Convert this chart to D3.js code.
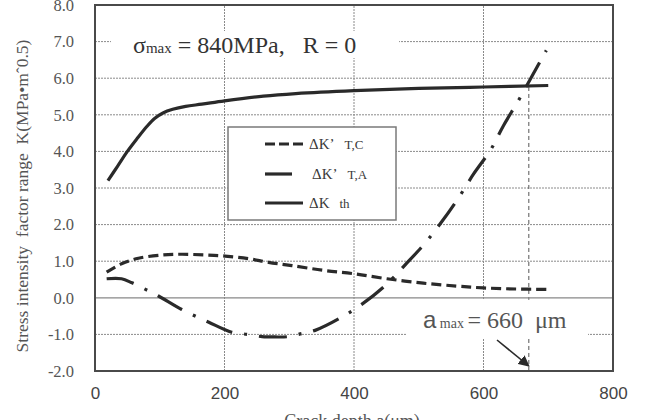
<!DOCTYPE html>
<html>
<head>
<meta charset="utf-8">
<script src="https://cdn.jsdelivr.net/npm/d3@7"></script>
<style>
  body { margin: 0; background: #fff; }
  svg { display: block; }
</style>
</head>
<body>
<div id="vis"></div>
<script>
// data
const X_TICKS = [0, 200, 400, 600, 800];
const Y_TICKS = [-2, -1, 0, 1, 2, 3, 4, 5, 6, 7, 8];

const TH_X = [20, 35, 50, 65, 80, 92, 105, 120, 140, 165, 200, 260, 310, 400, 500, 600, 700];
const TH_K = [3.2, 3.6, 4.0, 4.35, 4.68, 4.9, 5.05, 5.15, 5.23, 5.29, 5.38, 5.51, 5.58, 5.66, 5.72, 5.76, 5.8];

const TC_X = [18, 41, 67, 103, 134, 170, 201, 237, 268, 304, 353, 399, 451, 507, 559, 600, 650, 700];
const TC_K = [0.70, 0.93, 1.08, 1.17, 1.19, 1.17, 1.14, 1.07, 0.97, 0.88, 0.75, 0.66, 0.52, 0.40, 0.32, 0.27, 0.24, 0.23];

const TA_X = [18, 41, 57, 78, 98, 134, 175, 211, 236, 258, 278, 299, 319, 340, 379, 415, 451, 479, 510, 536, 561, 585, 611, 631, 654, 675, 697];
const TA_K = [0.52, 0.52, 0.41, 0.23, 0.05, -0.32, -0.66, -0.94, -1.0, -1.06, -1.07, -1.06, -0.98, -0.89, -0.55, -0.14, 0.38, 0.90, 1.50, 2.09, 2.72, 3.39, 4.04, 4.71, 5.39, 6.06, 6.76];

const A_MAX_LINE = 670;   // where the dashed marker sits on the picture

// frame
const FRAME_WIDTH = 667;
const FRAME_HEIGHT = 420;
const MARGINS = {left: 95, right: 54, top: 5, bottom: 49};
const VIS_WIDTH = FRAME_WIDTH - MARGINS.left - MARGINS.right;
const VIS_HEIGHT = FRAME_HEIGHT - MARGINS.top - MARGINS.bottom;

const svg = d3.select("#vis")
  .append("svg")
  .attr("width", FRAME_WIDTH)
  .attr("height", FRAME_HEIGHT);

const X = d3.scaleLinear().domain([0, 800]).range([MARGINS.left, MARGINS.left + VIS_WIDTH]);
const Y = d3.scaleLinear().domain([-2, 8]).range([MARGINS.top + VIS_HEIGHT, MARGINS.top]);

const INK = "#2a2a2a";
const SERIF = "'Liberation Serif', 'Times New Roman', serif";
const SANS = "'Liberation Sans', Arial, sans-serif";

// grid
const grid = svg.append("g").attr("stroke", "#8a8a8a").attr("stroke-width", 1).attr("stroke-dasharray", "2,1");
grid.selectAll(".hg")
  .data(Y_TICKS.filter(d => d !== 0 && d !== -2 && d !== 8))
  .join("line")
  .attr("x1", X(0)).attr("x2", X(800))
  .attr("y1", d => Y(d)).attr("y2", d => Y(d));
grid.selectAll(".vg")
  .data(X_TICKS.slice(1, -1))
  .join("line")
  .attr("x1", d => X(d)).attr("x2", d => X(d))
  .attr("y1", Y(-2)).attr("y2", Y(8));

// a_max marker
svg.append("line")
  .attr("x1", X(A_MAX_LINE)).attr("x2", X(A_MAX_LINE))
  .attr("y1", Y(5.76)).attr("y2", Y(-2))
  .attr("stroke", "#555").attr("stroke-width", 1).attr("stroke-dasharray", "4,3");

// white boxes behind the labels
svg.append("rect").attr("x", 111).attr("y", 31).attr("width", 288).attr("height", 27).attr("fill", "#fff");
svg.append("rect").attr("x", 407).attr("y", Y(0) + 2).attr("width", 181).attr("height", 39).attr("fill", "#fff");

// zero line
svg.append("line")
  .attr("x1", X(0)).attr("x2", X(800))
  .attr("y1", Y(0)).attr("y2", Y(0))
  .attr("stroke", "#888").attr("stroke-width", 1.3);

// curves
const line = d3.line().x(d => X(d[0])).y(d => Y(d[1])).curve(d3.curveCatmullRom.alpha(0.5));

svg.append("path")
  .datum(d3.zip(TC_X, TC_K))
  .attr("d", line)
  .attr("fill", "none").attr("stroke", INK).attr("stroke-width", 3.2)
  .attr("stroke-dasharray", "10,5");

svg.append("path")
  .datum(d3.zip(TA_X, TA_K))
  .attr("d", line)
  .attr("fill", "none").attr("stroke", INK).attr("stroke-width", 3.2)
  .attr("stroke-dasharray", "28,12,3,12");

svg.append("path")
  .datum(d3.zip(TH_X, TH_K))
  .attr("d", line)
  .attr("fill", "none").attr("stroke", INK).attr("stroke-width", 3.2);

// legend
const legend = svg.append("g");
legend.append("rect")
  .attr("x", 228).attr("y", 127).attr("width", 168).attr("height", 93)
  .attr("fill", "#fff").attr("stroke", "#7a7a7a").attr("stroke-width", 1.5);

const legendRows = [
  {y: 144, x2: 303, dash: "10,4", name: "ΔK’", sub: "T,C", tx: 309},
  {y: 174, x2: 292, dash: null, name: "ΔK’", sub: "T,A", tx: 312},
  {y: 203, x2: 303, dash: null, name: "ΔK", sub: "th", tx: 309}
];
legendRows.forEach(r => {
  legend.append("line")
    .attr("x1", 265).attr("x2", r.x2).attr("y1", r.y).attr("y2", r.y)
    .attr("stroke", INK).attr("stroke-width", 3.2)
    .attr("stroke-dasharray", r.dash);
  const t = legend.append("text")
    .attr("x", r.tx).attr("y", r.y + 5)
    .attr("font-family", SERIF).attr("font-size", 15).attr("fill", "#3a3a3a");
  t.append("tspan").text(r.name);
  t.append("tspan").attr("dx", 10).attr("font-size", 13).text(r.sub);
});

// axes
const yAxis = svg.append("g")
  .attr("transform", "translate(" + MARGINS.left + ",0)")
  .call(d3.axisLeft(Y).tickValues(Y_TICKS).tickSize(0).tickPadding(21).tickFormat(d => d.toFixed(1)));
yAxis.select(".domain").remove();
yAxis.selectAll("text").attr("font-family", SERIF).attr("font-size", 16.5).attr("fill", "#555");

const xAxis = svg.append("g")
  .attr("transform", "translate(0," + (MARGINS.top + VIS_HEIGHT) + ")")
  .call(d3.axisBottom(X).tickValues(X_TICKS).tickSize(0).tickPadding(16));
xAxis.select(".domain").remove();
xAxis.selectAll("text").attr("font-family", SANS).attr("font-size", 17).attr("fill", "#444");

// plot frame
svg.append("rect")
  .attr("x", X(0)).attr("y", Y(8))
  .attr("width", X(800) - X(0)).attr("height", Y(-2) - Y(8))
  .attr("fill", "none").attr("stroke", "#4a4a4a").attr("stroke-width", 2);

// axis titles
svg.append("text")
  .attr("x", 352).attr("y", 427)
  .attr("text-anchor", "middle")
  .attr("font-family", SERIF).attr("font-size", 18).attr("fill", "#555")
  .text("Crack depth a(μm)");

svg.append("text")
  .attr("transform", "translate(28,196) rotate(-90)")
  .attr("text-anchor", "middle")
  .attr("font-family", SERIF).attr("font-size", 17.5).attr("fill", "#555")
  .attr("xml:space", "preserve")
  .text("Stress intensity  factor range  K(MPa•m\u02C60.5)");

// annotations
const sig = svg.append("text")
  .attr("x", 133).attr("y", 53)
  .attr("font-family", SERIF).attr("font-size", 24).attr("fill", "#333")
  .attr("xml:space", "preserve");
sig.append("tspan").text("σ");
sig.append("tspan").attr("font-size", 15).text("max");
sig.append("tspan").text(" = 840MPa,   R = 0");

const am = svg.append("text")
  .attr("x", 423).attr("y", 328)
  .attr("font-family", SERIF).attr("font-size", 24).attr("fill", "#555")
  .attr("xml:space", "preserve");
am.append("tspan").attr("font-family", SANS).text("a");
am.append("tspan").attr("font-size", 14).text(" max ");
am.append("tspan").text("= 660  μm");

// arrow to a_max
svg.append("defs").append("marker")
  .attr("id", "head").attr("viewBox", "0 0 10 10")
  .attr("refX", 9).attr("refY", 5)
  .attr("markerWidth", 7).attr("markerHeight", 7)
  .attr("orient", "auto")
  .append("path").attr("d", "M0,0 L10,5 L0,10 z").attr("fill", INK);

svg.append("line")
  .attr("x1", 497).attr("y1", 340)
  .attr("x2", X(A_MAX_LINE)).attr("y2", 366)
  .attr("stroke", INK).attr("stroke-width", 1.6)
  .attr("marker-end", "url(#head)");
</script>
</body>
</html>
